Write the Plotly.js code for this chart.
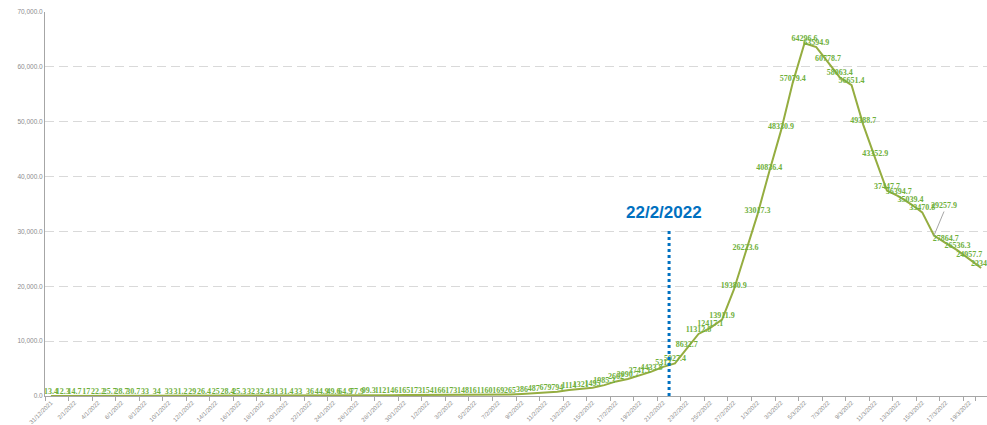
<!DOCTYPE html>
<html>
<head>
<meta charset="utf-8">
<script src="https://cdn.plot.ly/plotly-3.0.1.min.js"></script>
<style>
html,body{margin:0;padding:0;background:#fff;}
#chart{width:987px;height:425px;}
</style>
</head>
<body>
<div id="chart"></div>
<script>
// Categories (daily dates)
const dates = [
  "31/12/2021",
  "1/1/2022","2/1/2022","3/1/2022","4/1/2022","5/1/2022","6/1/2022","7/1/2022","8/1/2022","9/1/2022","10/1/2022",
  "11/1/2022","12/1/2022","13/1/2022","14/1/2022","15/1/2022","16/1/2022","17/1/2022","18/1/2022","19/1/2022","20/1/2022",
  "21/1/2022","22/1/2022","23/1/2022","24/1/2022","25/1/2022","26/1/2022","27/1/2022","28/1/2022","29/1/2022","30/1/2022","31/1/2022",
  "1/2/2022","2/2/2022","3/2/2022","4/2/2022","5/2/2022","6/2/2022","7/2/2022","8/2/2022","9/2/2022","10/2/2022",
  "11/2/2022","12/2/2022","13/2/2022","14/2/2022","15/2/2022","16/2/2022","17/2/2022","18/2/2022","19/2/2022","20/2/2022",
  "21/2/2022","22/2/2022","23/2/2022","24/2/2022","25/2/2022","26/2/2022","27/2/2022","28/2/2022",
  "1/3/2022","2/3/2022","3/3/2022","4/3/2022","5/3/2022","6/3/2022","7/3/2022","8/3/2022","9/3/2022","10/3/2022",
  "11/3/2022","12/3/2022","13/3/2022","14/3/2022","15/3/2022","16/3/2022","17/3/2022","18/3/2022","19/3/2022","20/3/2022"
];

// Series values
const values = [
  13.4, 12.3, 14.7, 17.0, 22.2, 25.7, 28.7, 30.7, 33.0, 34.0,
  33.0, 31.2, 29.0, 26.4, 25.0, 28.4, 25.3, 32.0, 32.4, 31.0,
  31.4, 33.0, 36.0, 44.9, 49.6,
  64.9, 77.9, 99.3, 112, 146, 165, 173, 154, 166, 173,
  148, 161, 160, 169, 265, 386, 487, 679, 794, 1114,
  1321, 1495, 1985.3, 2662, 3090.7, 3741.1, 4433.8, 5313, 5927.4,
  8632.7, 11312.8, 12417.1, 13911.9, 19380.9, 26223.6, 33017.3, 40836.4, 48330.9, 57079.4,
  64296.6, 63594.9, 60778.7, 58063.4, 56651.4, 49388.7, 43352.9, 37447.7, 36394.7, 35039.4,
  33470.8, 29257.9, 27864.7, 26536.3, 24957.7, 23346
];

// Tick labels: every second date
const tickLabels = dates.filter((d, i) => i % 2 === 0);

// Marker date
const markDate = "22/2/2022";
const markIdx = dates.indexOf(markDate);

// Label that is pulled out with a leader line in the reference
const calloutDate = "16/3/2022";
const calloutIdx = dates.indexOf(calloutDate);

const labelColor = "#6fb03c";
const labelFont = {family: "Liberation Serif", size: 8, color: labelColor, weight: "bold"};

const trace = {
  x: dates,
  y: values,
  type: "scatter",
  mode: "lines+text",
  line: {color: "#95ad40", width: 2},
  text: values.map((v, i) => i === calloutIdx ? "" : String(v)),
  textposition: "top center",
  textfont: labelFont,
  cliponaxis: false,
  hoverinfo: "x+y"
};

const layout = {
  width: 987,
  height: 425,
  margin: {l: 45, r: 0, t: 12, b: 29},
  paper_bgcolor: "#ffffff",
  plot_bgcolor: "#ffffff",
  showlegend: false,
  font: {family: "Liberation Sans"},
  xaxis: {
    type: "category",
    range: [-0.5, dates.length - 0.5],
    tickmode: "array",
    tickvals: tickLabels,
    ticktext: tickLabels,
    tickangle: -45,
    tickson: "boundaries",
    ticks: "outside",
    ticklen: 4,
    tickcolor: "#a6a6a6",
    tickfont: {family: "Liberation Sans", size: 6, color: "#8c8c8c"},
    showline: true,
    linecolor: "#a6a6a6",
    linewidth: 1,
    showgrid: false,
    zeroline: false,
    automargin: false
  },
  yaxis: {
    range: [0, 70000],
    tickmode: "linear",
    tick0: 0,
    dtick: 10000,
    tickformat: ",.1f",
    tickfont: {family: "Liberation Sans", size: 6.5, color: "#8c8c8c"},
    showgrid: true,
    gridcolor: "#d9d9d9",
    gridwidth: 1,
    griddash: "9px,5px",
    showline: true,
    linecolor: "#a6a6a6",
    linewidth: 1,
    zeroline: false,
    ticks: "",
    automargin: false
  },
  shapes: [{
    type: "line",
    xref: "x", yref: "y",
    x0: markIdx - 0.5, x1: markIdx - 0.5,
    y0: 0, y1: 30400,
    line: {color: "#0070C0", width: 3, dash: "dot"}
  }],
  annotations: [{
    xref: "x", yref: "y",
    x: markIdx - 0.95, y: 33400,
    text: "<b>" + markDate + "</b>",
    showarrow: false,
    xanchor: "center", yanchor: "middle",
    font: {family: "Liberation Sans", size: 17, color: "#0070C0"}
  }, {
    xref: "x", yref: "y",
    x: calloutIdx, y: values[calloutIdx],
    text: String(values[calloutIdx]),
    showarrow: true,
    arrowhead: 0,
    arrowwidth: 1,
    arrowcolor: "#a6a6a6",
    ax: 10, ay: -24,
    yanchor: "bottom",
    font: labelFont
  }]
};

Plotly.newPlot("chart", [trace], layout, {staticPlot: true, displayModeBar: false});
</script>
</body>
</html>
